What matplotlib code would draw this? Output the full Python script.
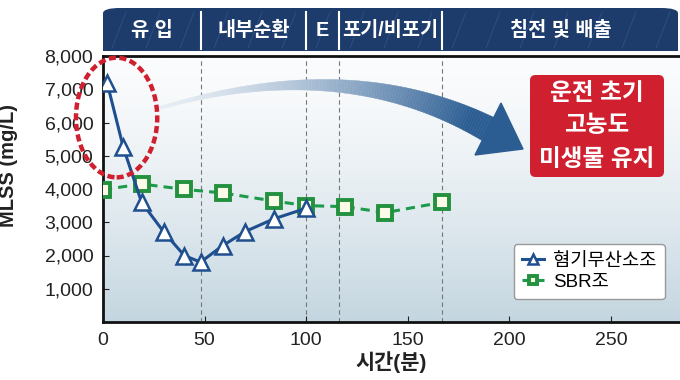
import numpy as np
import matplotlib
matplotlib.use("Agg")
import matplotlib.pyplot as plt
from matplotlib.patches import Ellipse, FancyBboxPatch, Rectangle, Polygon

plt.rcParams['font.family'] = ['Liberation Sans', 'Noto Sans CJK KR', 'DejaVu Sans']

# =========================
# DATA
# =========================
anox_t = [2, 10, 19, 30, 40, 48, 59, 70, 84, 100]
anox_mlss = [7200, 5250, 3600, 2700, 2000, 1800, 2300, 2720, 3100, 3420]

sbr_t = [0, 19, 40, 59, 84, 100, 119, 139, 167]
sbr_mlss = [3980, 4150, 3990, 3880, 3640, 3500, 3470, 3290, 3600]

phase_edges = [0, 48, 100, 116, 167, 284]
phase_names = ["유 입", "내부순환", "E", "포기/비포기", "침전 및 배출"]

x_ticks = [0, 50, 100, 150, 200, 250]
y_ticks = [1000, 2000, 3000, 4000, 5000, 6000, 7000, 8000]

BLUE = "#1f4f8f"
GREEN = "#1d9a4a"
NAVY = "#1d3c6b"
RED = "#d01f2f"

W, H = 680, 380
fig = plt.figure(figsize=(W / 100, H / 100), dpi=100)

def fx(px):
    return px / W

def fy(py):
    return 1 - py / H

ax = fig.add_axes([fx(103), fy(322), fx(680) - fx(103), fy(56) - fy(322)])

# background gradient (white at top -> blue grey at bottom)
grad = np.linspace(0, 1, 256).reshape(-1, 1) ** 1.4
cmap = matplotlib.colors.LinearSegmentedColormap.from_list("bg", ["#fbfcfd", "#c4d6e0"])
ax.imshow(grad, aspect="auto", cmap=cmap, extent=[0, 284, 0, 8000], zorder=0)
ax.set_xlim(0, 284)
ax.set_ylim(0, 8000)

# phase dividers
for e in phase_edges[1:-1]:
    ax.axvline(e, color="#777777", lw=0.8, ls=(0, (4, 3)), zorder=1)

# curved arrow (figure pixel coords)
P0 = np.array([160, 108.0])
P1 = np.array([346, 53.0])
P2 = np.array([488, 129.0])
ts = np.linspace(0, 1, 120)
pts = np.array([(1 - t) ** 2 * P0 + 2 * t * (1 - t) * P1 + t ** 2 * P2 for t in ts])
der = np.array([2 * (1 - t) * (P1 - P0) + 2 * t * (P2 - P1) for t in ts])
nrm = np.stack([-der[:, 1], der[:, 0]], axis=1)
nrm /= np.linalg.norm(nrm, axis=1)[:, None]
widths = 3 + 23 * ts ** 1.3
c0 = np.array(matplotlib.colors.to_rgb("#e6edf4"))
c1 = np.array(matplotlib.colors.to_rgb("#2b5d93"))
for i in range(len(ts) - 1):
    a1 = pts[i] + nrm[i] * widths[i] / 2
    b1 = pts[i] - nrm[i] * widths[i] / 2
    a2 = pts[i + 1] + nrm[i + 1] * widths[i + 1] / 2
    b2 = pts[i + 1] - nrm[i + 1] * widths[i + 1] / 2
    quad = [a1, a2, b2, b1]
    col = c0 + (c1 - c0) * min(1, ts[i] ** 1.4 * 1.1)
    fig.patches.append(Polygon([(fx(p[0]), fy(p[1])) for p in quad], closed=True,
                               transform=fig.transFigure, facecolor=col, edgecolor=col,
                               lw=0.3, zorder=2))
head = [(501, 103), (523, 149), (475, 155)]
fig.patches.append(Polygon([(fx(x), fy(y)) for x, y in head], closed=True,
                           transform=fig.transFigure, facecolor="#2b5d93",
                           edgecolor="#2b5d93", zorder=2))

# series
ax.plot(anox_t, anox_mlss, color=BLUE, lw=2.2, marker="^", ms=11,
        mfc="white", mec=BLUE, mew=1.8, label="혐기무산소조", zorder=4)
ax.plot(sbr_t, sbr_mlss, color=GREEN, lw=2.2, ls=(0, (3, 2)), marker="s", ms=10,
        mfc="#fbfbe8", mec="#23913e", mew=2.8, label="SBR조", zorder=3)

# dashed ellipse
ell = Ellipse((6.7, 6150), width=40, height=3600, fill=False, edgecolor=RED,
              lw=3.2, ls=(0, (1.6, 0.8)), clip_on=False, zorder=5)
ax.add_patch(ell)

# axes styling
ax.set_xticks(x_ticks)
ax.set_yticks(y_ticks)
ax.set_yticklabels([f"{v:,}" for v in y_ticks])
ax.tick_params(direction="in", length=4, width=0.8, labelsize=14,
               colors="#222222", labelcolor="#222222")
ax.tick_params(axis="y", pad=7)
ax.tick_params(axis="x", pad=7)
for s in ["left", "bottom", "top"]:
    ax.spines[s].set_linewidth(2)
    ax.spines[s].set_color("#111111")
ax.spines["right"].set_visible(False)

ax.set_ylabel("MLSS (mg/L)", fontsize=14.5, fontweight="bold", color="#222222")
ax.yaxis.set_label_coords(-0.147, 0.59)
ax.set_xlabel("시간(분)", fontsize=15, fontweight="bold", color="#222222", labelpad=2)

leg = ax.legend(loc="lower right", bbox_to_anchor=(0.99, 0.05), fontsize=13.5,
                handlelength=1.2, handletextpad=0.45, borderpad=0.45, labelspacing=0.2,
                frameon=True, fancybox=True, markerscale=0.6)
leg.get_frame().set_edgecolor("#999999")
leg.get_frame().set_facecolor("white")
leg.get_frame().set_alpha(1)

# header band: rounded top corners, square bottom
band = FancyBboxPatch((fx(103), fy(51)), fx(678) - fx(103), fy(8) - fy(51),
                      boxstyle="round,pad=0,rounding_size=0.025",
                      transform=fig.transFigure, facecolor=NAVY, edgecolor="none",
                      zorder=1, mutation_aspect=380 / 680)
fig.patches.append(band)
fig.patches.append(Rectangle((fx(103), fy(51)), fx(678) - fx(103), fy(30) - fy(51),
                             transform=fig.transFigure, facecolor=NAVY, edgecolor="none",
                             zorder=1))
# faint diagonal streaks
for xs in np.arange(112, 660, 34):
    fig.lines.append(matplotlib.lines.Line2D([fx(xs), fx(xs + 14)], [fy(48), fy(12)],
                                             transform=fig.transFigure,
                                             color="#2f5287", lw=0.6, zorder=1.5))

trans = matplotlib.transforms.blended_transform_factory(ax.transData, fig.transFigure)
for e in phase_edges[1:-1]:
    fig.lines.append(matplotlib.lines.Line2D([e, e], [fy(49), fy(12)], transform=trans,
                                             color="white", lw=1.5, zorder=2))
for i, name in enumerate(phase_names):
    xc = (phase_edges[i] + phase_edges[i + 1]) / 2
    fig.text(xc, fy(30), name, transform=trans, ha="center", va="center",
             fontsize=14.2, fontweight="bold", color="white", zorder=3)

# red annotation box
box = FancyBboxPatch((fx(530), fy(177)), fx(664) - fx(530), fy(75) - fy(177),
                     boxstyle="round,pad=0,rounding_size=0.008",
                     transform=fig.transFigure, facecolor=RED, edgecolor="none", zorder=3,
                     mutation_aspect=680 / 380)
fig.patches.append(box)
for txt, py in [("운전 초기", 93), ("고농도", 126), ("미생물 유지", 159)]:
    fig.text(fx(597), fy(py), txt, ha="center", va="center", fontsize=17,
             fontweight="bold", color="white", zorder=4)

fig.savefig("out.png", dpi=100)
